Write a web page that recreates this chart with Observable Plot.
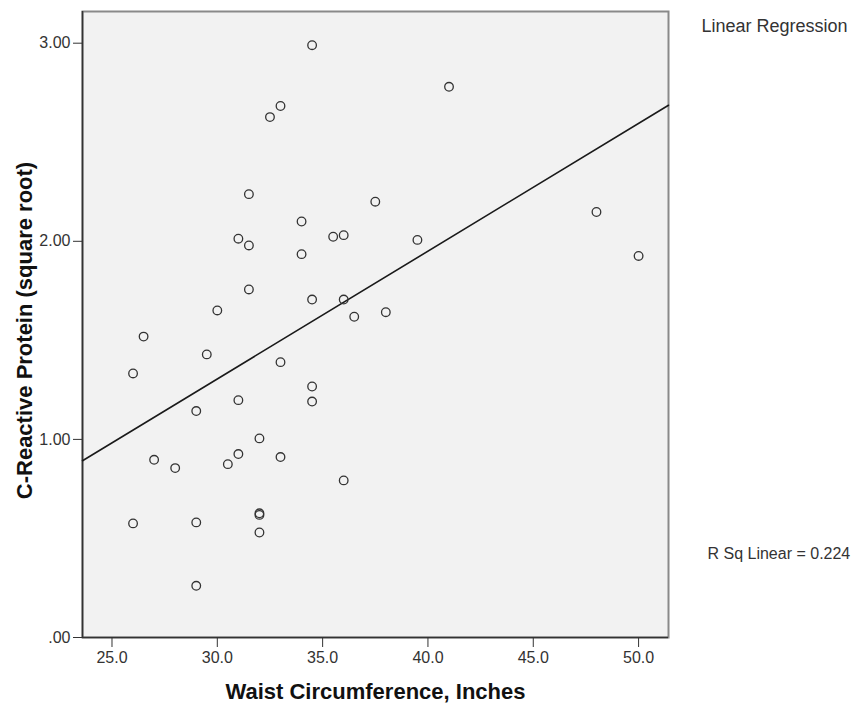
<!DOCTYPE html>
<html><head><meta charset="utf-8">
<script src="https://cdn.jsdelivr.net/npm/d3@7"></script>
<script src="https://cdn.jsdelivr.net/npm/@observablehq/plot@0.6"></script>
<style>body{margin:0;background:#fff;} svg{display:block;}</style>
</head><body><div id="chart"></div>
<script>
// Data
const waist = [34.5, 41, 33, 32.5, 31.5, 37.5, 34, 48, 31, 31.5,
               35.5, 36, 39.5, 50, 34, 31.5, 30, 34.5, 36, 36.5,
               38, 26.5, 26, 29.5, 33, 34.5, 34.5, 31, 29, 32,
               27, 28, 30.5, 31, 33, 36, 26, 29, 32, 32,
               32, 29];
const crp = [2.99, 2.78, 2.683, 2.627, 2.238, 2.20, 2.10, 2.148, 2.013, 1.979,
             2.023, 2.031, 2.007, 1.926, 1.935, 1.757, 1.651, 1.706, 1.706, 1.619,
             1.642, 1.519, 1.333, 1.429, 1.390, 1.267, 1.191, 1.198, 1.143, 1.005,
             0.897, 0.855, 0.875, 0.926, 0.911, 0.793, 0.576, 0.581, 0.619, 0.627,
             0.530, 0.261];
const xTicks = [25, 30, 35, 40, 45, 50];
const xTickLabels = ["25.0", "30.0", "35.0", "40.0", "45.0", "50.0"];
const yTicks = [0, 1, 2, 3];
const yTickLabels = [".00", "1.00", "2.00", "3.00"];
const xTitle = "Waist Circumference, Inches";
const yTitle = "C-Reactive Protein (square root)";
const legendTitle = "Linear Regression";
const rSqLabel = "R Sq Linear = 0.224";
const xDomain = [23.6, 51.42];
const yDomain = [0, 3.16];

const points = waist.map((x, i) => ({x, y: crp[i]}));
// Ordinary least squares fit, drawn across the full x range like SPSS
const mx = d3.mean(waist), my = d3.mean(crp);
const slope = d3.sum(points, p => (p.x - mx) * (p.y - my)) / d3.sum(points, p => (p.x - mx) ** 2);
const intercept = my - slope * mx;
const fit = xDomain.map(x => ({x, y: intercept + slope * x}));

const chart = Plot.plot({
  width: 857, height: 709,
  marginLeft: 82, marginRight: 189, marginTop: 11, marginBottom: 72,
  style: {fontFamily: "Arial, 'Liberation Sans', sans-serif", background: "#fff", color: "#333"},
  x: {domain: xDomain},
  y: {domain: yDomain},
  marks: [
    Plot.frame({fill: "#f2f2f2", stroke: "#8a8a8a", strokeWidth: 2}),
    Plot.ruleX([xDomain[0]], {stroke: "#333", strokeWidth: 1.6}),
    Plot.ruleY([yDomain[0]], {stroke: "#333", strokeWidth: 1.6}),
    Plot.axisX(xTicks, {tickFormat: d => xTickLabels[xTicks.indexOf(d)], tickSize: 10, tickPadding: 4, fontSize: 16, label: null}),
    Plot.axisY(yTicks, {tickFormat: d => yTickLabels[yTicks.indexOf(d)], tickSize: 9, tickPadding: 3, fontSize: 16, label: null}),
    Plot.line(fit, {x: "x", y: "y", stroke: "#1a1a1a", strokeWidth: 1.6}),
    Plot.dot(points, {x: "x", y: "y", r: 4.3, stroke: "#333", strokeWidth: 1.3, fill: "none"}),
    Plot.text([xTitle], {text: d => d, frameAnchor: "bottom", dy: 61, textAnchor: "middle", lineAnchor: "bottom", fontSize: 22, fontWeight: "bold", fill: "#111"}),
    Plot.text([yTitle], {text: d => d, frameAnchor: "left", dx: -51, dy: 6, rotate: -90, textAnchor: "middle", lineAnchor: "bottom", fontSize: 22, fontWeight: "bold", fill: "#111"}),
    Plot.text([legendTitle], {text: d => d, frameAnchor: "top-right", dx: 33, dy: 20, textAnchor: "start", lineAnchor: "bottom", fontSize: 18, fill: "#333"}),
    Plot.text([rSqLabel], {text: d => d, frameAnchor: "bottom-right", dx: 39, dy: -79, textAnchor: "start", lineAnchor: "bottom", fontSize: 16, fill: "#333"})
  ]
});
document.getElementById("chart").append(chart);
</script>
</body></html>
